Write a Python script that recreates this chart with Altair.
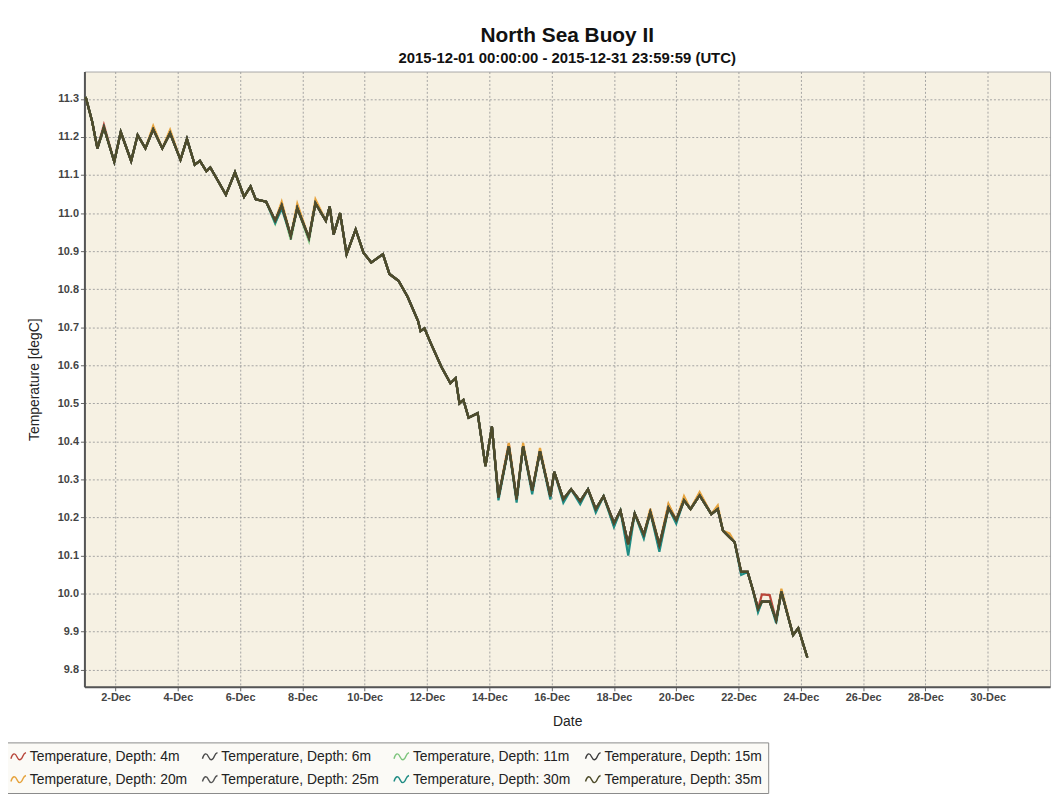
import altair as alt
import pandas as pd

# ---- data ----
# sample times, hours after 2015-12-01 00:00 UTC
hours = [1, 6, 10, 15, 23, 28, 36, 41, 47, 53, 60, 66, 74, 79, 85, 89, 94, 97, 102, 109,
         116, 123, 128, 132, 140, 147, 152, 159, 164, 173, 178, 186, 189, 192, 197, 202, 209, 215, 221, 230,
         235, 242, 249, 257, 259, 262, 267, 275, 282, 286, 289, 292, 296, 303, 309, 314, 319, 327, 333, 338,
         345, 351, 359, 362, 369, 375, 382, 388, 394, 400, 408, 413, 419, 424, 431, 436, 443, 450, 456, 462,
         467, 474, 483, 488, 492, 497, 501, 506, 511, 515, 519, 522, 528, 533, 537, 546, 550, 557]

temp_35m = [11.305, 11.240, 11.170, 11.225, 11.135, 11.213, 11.137, 11.205, 11.170, 11.220,
            11.170, 11.210, 11.140, 11.195, 11.127, 11.137, 11.110, 11.120, 11.090, 11.048,
            11.107, 11.043, 11.070, 11.036, 11.030, 10.980, 11.020, 10.940, 11.013, 10.935,
            11.026, 10.980, 11.017, 10.944, 11.000, 10.892, 10.957, 10.896, 10.870, 10.892,
            10.840, 10.822, 10.780, 10.717, 10.690, 10.697, 10.657, 10.596, 10.553, 10.566,
            10.500, 10.509, 10.462, 10.474, 10.335, 10.439, 10.253, 10.387, 10.248, 10.387,
            10.270, 10.374, 10.256, 10.320, 10.248, 10.274, 10.243, 10.274, 10.222, 10.256,
            10.185, 10.218, 10.130, 10.210, 10.155, 10.214, 10.128, 10.225, 10.193, 10.245,
            10.222, 10.258, 10.209, 10.222, 10.165, 10.148, 10.135, 10.057, 10.057, 10.010,
            9.960, 9.979, 9.979, 9.930, 10.005, 9.891, 9.909, 9.832]

# the dark series lie on top of each other in the picture
temp_6m = list(temp_35m)
temp_15m = list(temp_35m)
temp_25m = list(temp_35m)

# the coloured series differ from the dark ones only at a few samples (index: value)
diff_4m = {3: 11.232, 57: 10.394, 77: 10.233, 81: 10.263, 91: 9.998, 92: 9.996}
diff_11m = {25: 10.972, 27: 10.930, 29: 10.927, 70: 10.177, 72: 10.120, 74: 10.147, 76: 10.118, 90: 9.953}
diff_20m = {9: 11.229, 11: 11.219, 26: 11.030, 28: 11.025, 30: 11.036, 57: 10.396, 59: 10.396,
            61: 10.383, 75: 10.223, 77: 10.236, 79: 10.256, 81: 10.267, 83: 10.232, 85: 10.158, 94: 10.013}
diff_30m = {25: 10.974, 26: 11.011, 56: 10.245, 58: 10.239, 60: 10.261, 62: 10.247, 64: 10.239,
            66: 10.235, 68: 10.213, 70: 10.175, 72: 10.100, 74: 10.145, 76: 10.110, 78: 10.184,
            87: 10.049, 90: 9.951, 93: 9.922}


def with_diffs(base, diffs):
    out = list(base)
    for i, v in diffs.items():
        out[i] = v
    return out


temp_4m = with_diffs(temp_35m, diff_4m)
temp_11m = with_diffs(temp_35m, diff_11m)
temp_20m = with_diffs(temp_35m, diff_20m)
temp_30m = with_diffs(temp_35m, diff_30m)

series_names = ["Temperature, Depth: 4m", "Temperature, Depth: 6m", "Temperature, Depth: 11m",
                "Temperature, Depth: 15m", "Temperature, Depth: 20m", "Temperature, Depth: 25m",
                "Temperature, Depth: 30m", "Temperature, Depth: 35m"]
series_values = [temp_4m, temp_6m, temp_11m, temp_15m, temp_20m, temp_25m, temp_30m, temp_35m]
series_colors = ["#B8463A", "#4A4A4A", "#7CC47C", "#3C3C3C", "#E6A33C", "#565656", "#1F8C84", "#4E4C2A"]
draw_order = [0, 2, 4, 6, 1, 3, 5, 7]

tick_dates = [2, 4, 6, 8, 10, 12, 14, 16, 18, 20, 22, 24, 26, 28, 30]
y_ticks = [9.8, 9.9, 10.0, 10.1, 10.2, 10.3, 10.4, 10.5, 10.6, 10.7, 10.8, 10.9, 11.0, 11.1, 11.2, 11.3]

# ---- table ----
start = pd.Timestamp("2015-12-01T00:00:00Z")
rows = []
for name, vals in zip(series_names, series_values):
    for h, v in zip(hours, vals):
        rows.append({"time": (start + pd.Timedelta(hours=h)).strftime("%Y-%m-%dT%H:%M:%SZ"),
                     "series": name, "temp": v})
df = pd.DataFrame(rows)

FONT = "Liberation Sans"

wave = "M-1,0.25 C-0.75,-0.55 -0.45,-0.55 -0.2,0 C0.05,0.55 0.35,0.55 0.6,-0.1 C0.7,-0.35 0.85,-0.5 1,-0.55"

x_enc = alt.X(
    "time:T",
    scale=alt.Scale(type="utc",
                    domain=[alt.DateTime(year=2015, month=12, date=1, utc=True),
                            alt.DateTime(year=2016, month=1, date=1, utc=True)]),
    axis=alt.Axis(values=[alt.DateTime(year=2015, month=12, date=d, utc=True) for d in tick_dates],
                  format="%-d-%b", title="Date"),
)
y_enc = alt.Y(
    "temp:Q",
    scale=alt.Scale(domain=[9.755, 11.372], nice=False, zero=False),
    axis=alt.Axis(values=y_ticks, format=".1f", title="Temperature [degC]"),
)
color_enc = alt.Color(
    "series:N",
    scale=alt.Scale(domain=series_names, range=series_colors),
    legend=alt.Legend(orient="none", legendX=-81, legendY=676, direction="horizontal",
                      columns=4, gridAlign="none", title=None, symbolType=wave,
                      symbolSize=230, symbolStrokeWidth=1.4, symbolFillColor="transparent",
                      labelFontSize=14, labelFont=FONT, labelColor="#222", labelOffset=3,
                      columnPadding=12, rowPadding=7, padding=6,
                      strokeColor="#8a8a8a", fillColor="#FBFAF6"),
)

layers = []
for i in draw_order:
    layers.append(
        alt.Chart(df).transform_filter(alt.datum.series == series_names[i])
        .mark_line(strokeWidth=2.2, interpolate="linear")
        .encode(x=x_enc, y=y_enc, color=color_enc)
    )

chart = alt.layer(*layers).properties(
    width=973, height=620,
    title=alt.TitleParams(
        text="North Sea Buoy II",
        subtitle="2015-12-01 00:00:00 - 2015-12-31 23:59:59 (UTC)",
        font=FONT, fontSize=21, fontWeight="bold", color="#111",
        subtitleFont=FONT, subtitleFontSize=15, subtitleFontWeight="bold", subtitleColor="#111",
        subtitlePadding=5, anchor="middle", offset=6,
    ),
    autosize=alt.AutoSizeParams(type="none"),
    padding={"left": 77, "top": 61, "right": 5, "bottom": 107},
).configure(
    background="white",
).configure_view(
    fill="#F6F1E3", stroke="#A8A8A8", strokeWidth=1,
).configure_axis(
    labelFont=FONT, labelFontSize=11, labelFontWeight="bold", labelColor="#444",
    titleFont=FONT, titleFontSize=14, titleFontWeight="normal", titleColor="#222",
    gridColor="#9C9C9C", gridDash=[2, 2], gridWidth=1, gridOpacity=0.9,
    domainColor="#555", domainWidth=2, tickColor="#666", tickSize=4,
).configure_axisX(
    labelPadding=1, titlePadding=12,
).configure_axisY(
    labelPadding=2, titlePadding=16,
)

chart.save("out.html", embed_options={"renderer": "svg", "actions": False})
